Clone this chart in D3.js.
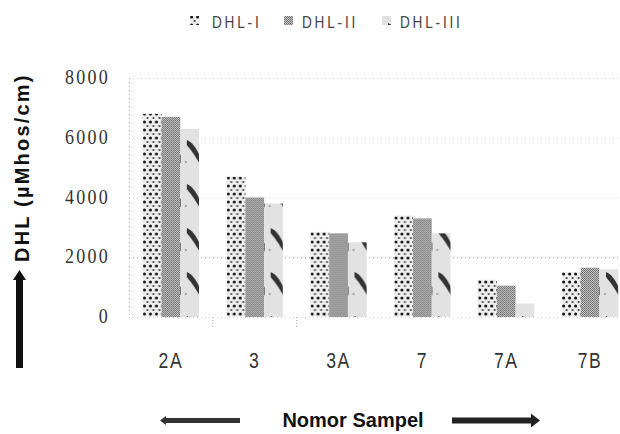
<!DOCTYPE html>
<html lang="id">
<head>
    <meta charset="UTF-8">
    <title>DHL per Nomor Sampel</title>
    <script src="https://cdn.jsdelivr.net/npm/d3@7"></script>
    <style>
        body { margin: 0; background: #fff; }
        svg { display: block; }
    </style>
</head>
<body>
    <div id="chart"></div>
    <script>
        // data
        const categories = ["2A", "3", "3A", "7", "7A", "7B"];
        const seriesNames = ["DHL-I", "DHL-II", "DHL-III"];
        const dhl1 = [6800, 4700, 2850, 3400, 1250, 1500];
        const dhl2 = [6700, 4000, 2800, 3300, 1050, 1650];
        const dhl3 = [6300, 3800, 2500, 2800, 450, 1600];
        const yTicks = [0, 2000, 4000, 6000, 8000];

        const series = [dhl1, dhl2, dhl3];

        const width = 620;
        const height = 434;
        const margin = { top: 78, right: -12, bottom: 117, left: 129 }; // plot runs off the right edge like the scan

        const svg = d3.select("#chart")
            .append("svg")
            .attr("width", width)
            .attr("height", height);

        // fills imitating the photocopied textures
        const defs = svg.append("defs");

        const p1 = defs.append("pattern")
            .attr("id", "fill-dhl1")
            .attr("patternUnits", "userSpaceOnUse")
            .attr("width", 6).attr("height", 8);
        p1.append("rect").attr("width", 6).attr("height", 8).attr("fill", "#eeeeee");
        p1.append("circle").attr("cx", 1.6).attr("cy", 2).attr("r", 1.5).attr("fill", "#111");
        p1.append("circle").attr("cx", 4.6).attr("cy", 6).attr("r", 1.1).attr("fill", "#444");

        const p2 = defs.append("pattern")
            .attr("id", "fill-dhl2")
            .attr("patternUnits", "userSpaceOnUse")
            .attr("width", 2).attr("height", 2);
        p2.append("rect").attr("width", 2).attr("height", 2).attr("fill", "#c4c4c4");
        p2.append("rect").attr("width", 1).attr("height", 1).attr("fill", "#6e6e6e");
        p2.append("rect").attr("x", 1).attr("y", 1).attr("width", 1).attr("height", 1).attr("fill", "#7a7a7a");

        const p3 = defs.append("pattern")
            .attr("id", "fill-dhl3")
            .attr("patternUnits", "userSpaceOnUse")
            .attr("width", 19).attr("height", 44);
        p3.append("rect").attr("width", 19).attr("height", 44).attr("fill", "#e2e2e2");
        p3.append("path")
            .attr("d", "M6,8 C11,10 15,15 19,24 L19,32 C14,23 10,18 6,13 Z")
            .attr("fill", "#333");
        p3.append("circle").attr("cx", 5).attr("cy", 30).attr("r", 1.2).attr("fill", "#aaa");

        const plot = svg.append("g");

        const x0 = d3.scaleBand()
            .domain(categories)
            .range([margin.left, width - margin.right])
            .paddingInner(0.33)
            .paddingOuter(0.165);

        const x1 = d3.scaleBand()
            .domain(seriesNames)
            .range([0, x0.bandwidth()]);

        const y = d3.scaleLinear()
            .domain([0, 8000])
            .range([height - margin.bottom, margin.top]);

        // dotted gridlines
        plot.append("g")
            .selectAll("line")
            .data(yTicks)
            .join("line")
            .attr("x1", margin.left)
            .attr("x2", width)
            .attr("y1", d => y(d) + 0.5)
            .attr("y2", d => y(d) + 0.5)
            .attr("stroke", d => d === 2000 ? "#999" : "#d0d0d0")
            .attr("stroke-dasharray", "1,3");

        // vertical axis line
        plot.append("line")
            .attr("x1", margin.left + 0.5)
            .attr("x2", margin.left + 0.5)
            .attr("y1", y(8000))
            .attr("y2", y(0))
            .attr("stroke", "#bbb")
            .attr("stroke-dasharray", "1,3");

        // category separators under the baseline
        const step = x0.step();
        plot.append("g")
            .selectAll("line")
            .data(categories.slice(0, 2))
            .join("line")
            .attr("x1", d => x0(d) + x0.bandwidth() + (step - x0.bandwidth()) / 2)
            .attr("x2", d => x0(d) + x0.bandwidth() + (step - x0.bandwidth()) / 2)
            .attr("y1", y(0))
            .attr("y2", y(0) + 10)
            .attr("stroke", "#aaa")
            .attr("stroke-dasharray", "1,2");

        // bars
        const groups = plot.append("g")
            .selectAll("g")
            .data(categories)
            .join("g")
            .attr("transform", d => `translate(${x0(d)},0)`);

        groups.selectAll("rect")
            .data((d, i) => seriesNames.map((s, j) => ({ key: s, value: series[j][i] })))
            .join("rect")
            .attr("x", d => x1(d.key))
            .attr("y", d => y(d.value))
            .attr("width", x1.bandwidth())
            .attr("height", d => y(0) - y(d.value))
            .attr("fill", (d, j) => `url(#fill-dhl${j + 1})`);

        // y tick labels (thin serif digits, like the scan)
        svg.append("g")
            .selectAll("text")
            .data(yTicks)
            .join("text")
            .attr("transform", d => `translate(110,${y(d) + 6}) scale(0.9,1)`)
            .attr("text-anchor", "end")
            .style("font-family", "'Liberation Serif', 'DejaVu Serif', serif")
            .attr("font-size", 20)
            .attr("letter-spacing", 2.5)
            .attr("fill", "#333")
            .text(d => d);

        // category labels (squeezed to look condensed)
        svg.append("g")
            .selectAll("text")
            .data(categories)
            .join("text")
            .attr("transform", d => `translate(${x0(d) + x0.bandwidth() / 2},368) scale(0.8,1)`)
            .attr("text-anchor", "middle")
            .attr("font-family", "Liberation Sans")
            .attr("font-size", 22)
            .attr("letter-spacing", 2)
            .attr("fill", "#333")
            .text(d => d);

        // legend
        const legendX = [190, 284, 382];
        const legend = svg.append("g")
            .selectAll("g")
            .data(seriesNames)
            .join("g")
            .attr("transform", (d, i) => `translate(${legendX[i]},15)`);

        legend.append("rect")
            .attr("width", 9)
            .attr("height", 9)
            .attr("y", 1)
            .attr("fill", (d, i) => `url(#fill-dhl${i + 1})`);

        legend.append("text")
            .attr("transform", (d, i) => `translate(${i === 0 ? 22 : 18},13) scale(0.8,1)`)
            .attr("font-family", "Liberation Sans")
            .attr("font-size", 17)
            .attr("letter-spacing", 3.5)
            .attr("fill", "#444")
            .text(d => d);

        // y axis title with arrow
        svg.append("text")
            .attr("transform", "translate(29,262) rotate(-90)")
            .attr("font-family", "Liberation Sans")
            .attr("font-weight", "bold")
            .attr("font-size", 20)
            .attr("letter-spacing", 2.2)
            .attr("fill", "#111")
            .text("DHL (µMhos/cm)");

        svg.append("rect")
            .attr("x", 16)
            .attr("y", 276)
            .attr("width", 7)
            .attr("height", 92)
            .attr("fill", "#111");
        svg.append("path")
            .attr("d", "M13,280 L19.5,270 L26,280 Z")
            .attr("fill", "#111");

        // x axis title with arrows
        svg.append("text")
            .attr("x", 353)
            .attr("y", 427)
            .attr("text-anchor", "middle")
            .attr("font-family", "Liberation Sans")
            .attr("font-weight", "bold")
            .attr("font-size", 20)
            .attr("fill", "#111")
            .text("Nomor Sampel");

        svg.append("rect")
            .attr("x", 164).attr("y", 418).attr("width", 76).attr("height", 5)
            .attr("fill", "#333");
        svg.append("path")
            .attr("d", "M160,420.5 L166,416 L166,425 Z")
            .attr("fill", "#333");

        svg.append("rect")
            .attr("x", 452).attr("y", 417.5).attr("width", 80).attr("height", 6)
            .attr("fill", "#222");
        svg.append("path")
            .attr("d", "M531,413.5 L540,420.5 L531,427.5 Z")
            .attr("fill", "#222");
    </script>
</body>
</html>
